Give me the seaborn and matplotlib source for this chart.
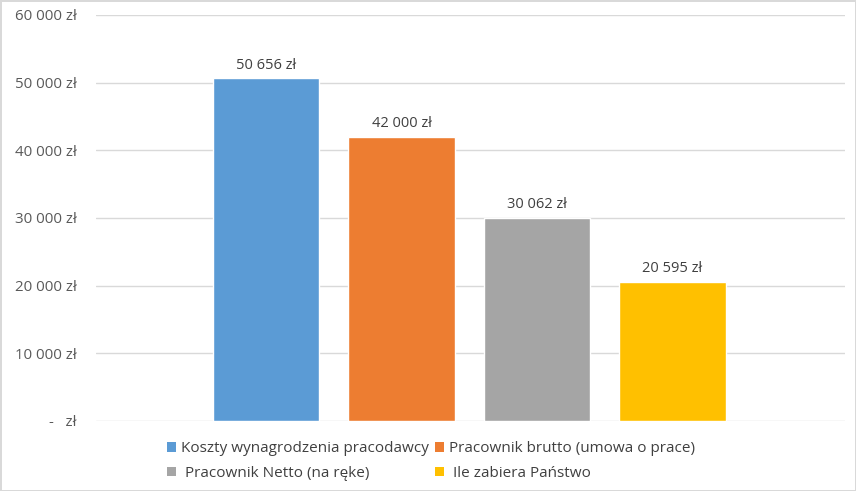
import matplotlib
matplotlib.use("Agg")
import matplotlib.pyplot as plt
import seaborn as sns
from matplotlib.patches import Patch
from matplotlib.ticker import FuncFormatter

series = ["Koszty wynagrodzenia pracodawcy", "Pracownik brutto (umowa o prace)",
          "Pracownik Netto (na ręke)", "Ile zabiera Państwo"]
values = [50656, 42000, 30062, 20595]
colors = ["#5B9BD5", "#ED7D31", "#A5A5A5", "#FFC000"]
yticks = [0, 10000, 20000, 30000, 40000, 50000, 60000]

sns.set_theme(style="white")
plt.rcParams['font.family'] = ['Open Sans', 'DejaVu Sans']

def fmt(v):
    if v == 0:
        return "-   zł"
    return f"{int(round(v)):,}".replace(",", " ") + " zł"

fig = plt.figure(figsize=(8.56, 4.91), dpi=100)
fig.patch.set_facecolor("white")
fig.patch.set_edgecolor("#D9D9D9")
fig.patch.set_linewidth(2)
ax = fig.add_axes([96/856, 70/491, 749/856, 406/491])

sns.barplot(x=series, y=values, hue=series, palette=colors, width=0.785,
            legend=False, ax=ax, saturation=1)

ax.set_xlim(-1.2546, 4.273)
ax.set_ylim(0, 60000)
ax.set_yticks(yticks)
ax.yaxis.set_major_formatter(FuncFormatter(lambda v, p: fmt(v)))
ax.set_xticks([])
ax.set_xlabel("")
ax.set_ylabel("")
for s in ax.spines.values():
    s.set_visible(False)
ax.grid(axis="y", color="#D9D9D9", linewidth=1)
ax.set_axisbelow(True)
ax.tick_params(axis="y", length=0, pad=14, labelsize=10.8, labelcolor="#595959")

for i, v in enumerate(values):
    ax.annotate(fmt(v), (i, v), xytext=(0, 4), textcoords="offset points",
                ha="center", va="bottom", fontsize=10.5, color="#404040")

labels_disp = ["Koszty wynagrodzenia pracodawcy", "Pracownik brutto (umowa o prace)",
               " Pracownik Netto (na ręke)", " Ile zabiera Państwo"]
handles = [Patch(facecolor=c, edgecolor="none") for c in colors]
order = [0, 2, 1, 3]
leg = fig.legend([handles[i] for i in order], [labels_disp[i] for i in order],
                 ncol=2, loc="center", bbox_to_anchor=(431/856, 1 - 461/491),
                 frameon=False, fontsize=11, handlelength=0.6, handleheight=0.6,
                 handletextpad=0.3, columnspacing=0.4, labelspacing=0.62,
                 labelcolor="#404040")

fig.savefig("out.png", dpi=100)
